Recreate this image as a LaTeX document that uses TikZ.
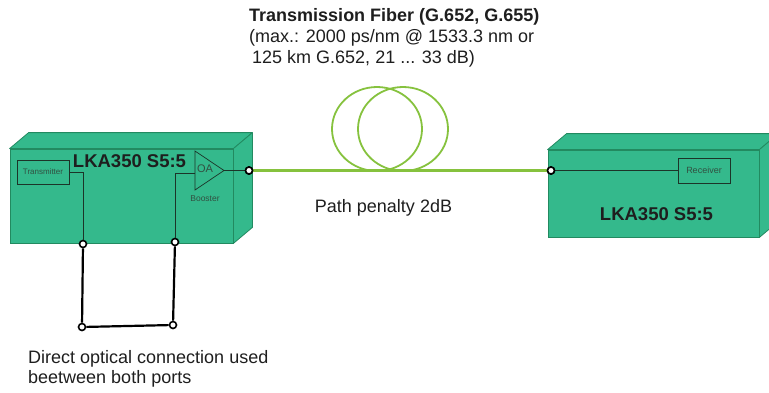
\documentclass[tikz,border=0pt]{standalone}
\usepackage{fontspec}
\setmainfont{Liberation Sans}
\usetikzlibrary{positioning}

\definecolor{shelffill}{RGB}{52,185,140}
\definecolor{shelfedge}{RGB}{34,138,96}
\definecolor{wirecol}{RGB}{28,52,40}
\definecolor{cardtext}{RGB}{50,80,65}
\definecolor{fibergreen}{RGB}{134,194,62}
\definecolor{inktext}{RGB}{30,30,30}

\begin{document}
\begin{tikzpicture}[x=1pt, y=-1pt,
  front/.style={draw=shelfedge, fill=shelffill, line width=0.8pt, inner sep=0pt},
  shell/.style={draw=shelfedge, fill=shelffill, line width=0.8pt, line join=round},
  card/.style={draw=wirecol, line width=0.7pt, inner sep=0pt, text=cardtext, font=\fontsize{8}{9}\selectfont},
  cardlabel/.style={inner sep=0pt, text=cardtext, font=\fontsize{8.5}{9}\selectfont},
  wire/.style={draw=wirecol, line width=0.7pt},
  port/.style={circle, draw=black, fill=white, line width=1.6pt, inner sep=0pt, minimum size=7pt},
  patch/.style={draw=black, line width=2.2pt},
  fiber/.style={draw=fibergreen, line width=2.4pt},
  coil/.style={draw=fibergreen, line width=1.8pt},
  title/.style={inner sep=0pt, text=inktext, font=\bfseries\fontsize{18.5}{20}\selectfont},
  label/.style={inner sep=0pt, text=inktext, font=\fontsize{18}{21}\selectfont}]

  \useasboundingbox (0,0) rectangle (769,392);

  % Front faces of both shelves
  \node[front, minimum width=223pt, minimum height=94pt] (lkaA) at (121.5,196) {};
  \node[front, minimum width=211pt, minimum height=87pt] (lkaB) at (653.5,193.5) {};

  % Top and side faces
  \foreach \s in {lkaA,lkaB} {
    \draw[shell] (\s.north west) -- ++(19,-16) -- ([shift={(19,-16)}]\s.north east) -- (\s.north east) -- cycle;
    \draw[shell] (\s.north east) -- ++(19,-16) -- ([shift={(19,-16)}]\s.south east) -- (\s.south east) -- cycle;
  }

  % Left shelf: transmitter and booster
  \node[title, anchor=base] (nameA) at (129.5,167.5) {LKA350 S5:5};
  \node[card, minimum width=52pt, minimum height=24pt] (tx) at (43,172) {Transmitter};
  \draw[wire] (195,151) coordinate (oaTop) -- (224,170.5) coordinate (oaTip) -- (195,190) coordinate (oaBot) -- cycle;
  \coordinate (oaIn) at (195,173);
  \node[cardlabel, font=\fontsize{11}{12}\selectfont] (oa) at (205,168.5) {OA};
  \node[cardlabel, anchor=base] (booster) at (205,201.5) {Booster};

  \node[port] (pTx) at (83,244) {};
  \node[port] (pOA) at (175,242) {};
  \node[port] (pOut) at (249,170.5) {};
  \draw[wire] (tx.east) -| (pTx);
  \draw[wire] (oaIn) -| (pOA);
  \draw[wire] (oaTip) -- (pOut);

  % Right shelf: receiver
  \node[title, anchor=base] (nameB) at (656.5,220.5) {LKA350 S5:5};
  \node[card, minimum width=52pt, minimum height=25pt, font=\fontsize{9}{10}\selectfont] (rx) at (704,170.5) {Receiver};
  \node[port] (pIn) at (551,170.5) {};
  \draw[wire] (pIn) -- (rx.west);

  % Fiber span with coil
  \draw[coil] (377,129) ellipse [x radius=45pt, y radius=42pt];
  \draw[coil] (403,129) ellipse [x radius=45pt, y radius=42pt];
  \draw[fiber] (pOut) -- (pIn);
  \node[port] at (pOut) {};
  \node[port] at (pIn) {};

  \node[label, anchor=north west, align=left] (fiberinfo) at (249,8)
    {\textbf{Transmission Fiber (G.652, G.655)}\\(max.: 2000 ps/nm @ 1533.3 nm or\\\hspace{3pt}125 km G.652, 21 ... 33 dB)};
  \node[label, anchor=base] (penalty) at (383.5,212) {Path penalty 2dB};

  % Loop-back patch between the two ports
  \node[port] (pA) at (82,327) {};
  \node[port] (pB) at (173,325) {};
  \draw[patch] (pTx) -- (pA) -- (pB) -- (pOA);

  \node[label, anchor=north west, align=left, font=\fontsize{18}{20}\selectfont] (patchnote) at (28,350)
    {Direct optical connection used\\beetween both ports};
\end{tikzpicture}
\end{document}
